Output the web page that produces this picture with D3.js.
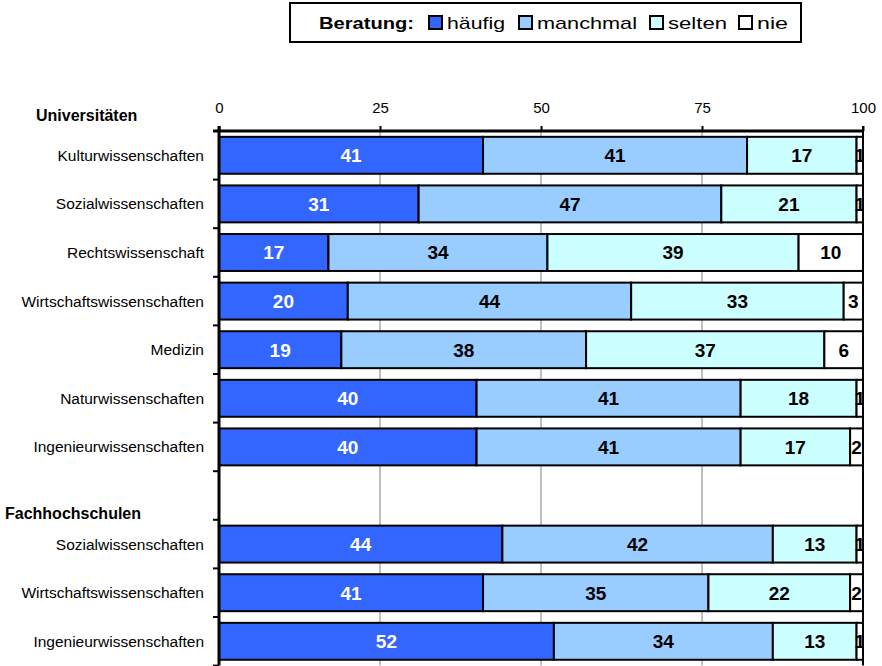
<!DOCTYPE html>
<html>
<head>
<meta charset="utf-8">
<script src="https://cdn.jsdelivr.net/npm/d3@7"></script>
<style>
  html, body { margin: 0; padding: 0; background: #fff; }
  svg { display: block; font-family: Arial, "Liberation Sans", sans-serif; }
</style>
</head>
<body>
<svg id="chart" width="882" height="666"></svg>
<script>
// Rows of the chart (an empty row separates the two school types)
const rows = [
  "Kulturwissenschaften", "Sozialwissenschaften", "Rechtswissenschaft",
  "Wirtschaftswissenschaften", "Medizin", "Naturwissenschaften",
  "Ingenieurwissenschaften", "gap",
  "FH Sozialwissenschaften", "FH Wirtschaftswissenschaften", "FH Ingenieurwissenschaften"
];
const rowLabels = [
  "Kulturwissenschaften", "Sozialwissenschaften", "Rechtswissenschaft",
  "Wirtschaftswissenschaften", "Medizin", "Naturwissenschaften",
  "Ingenieurwissenschaften", "",
  "Sozialwissenschaften", "Wirtschaftswissenschaften", "Ingenieurwissenschaften"
];
const groupHeaders = ["Universitäten", "Fachhochschulen"];

// Beratung (Anteile in %)
const seriesNames = ["häufig", "manchmal", "selten", "nie"];
const haeufig  = [41, 31, 17, 20, 19, 40, 40, null, 44, 41, 52];
const manchmal = [41, 47, 34, 44, 38, 41, 41, null, 42, 35, 34];
const selten   = [17, 21, 39, 33, 37, 18, 17, null, 13, 22, 13];
const nie      = [ 1,  1, 10,  3,  6,  1,  2, null,  1,  2,  1];
const xTicks = [0, 25, 50, 75, 100];

const colors = ["#3366FF", "#99CCFF", "#CCFFFF", "#FFFFFF"];
const labelColors = ["#FFFFFF", "#000000", "#000000", "#000000"];

const svg = d3.select("#chart");
const plotLeft = 219, plotRight = 863, plotTop = 131, plotBottom = 131 + 11 * 48.6;

const x = d3.scaleLinear().domain([0, 100]).range([plotLeft, plotRight]);
const y = d3.scaleBand().domain(rows).range([plotTop, plotBottom]).paddingInner(0.24).paddingOuter(0.12);

const table = rows.map((r, i) => ({
  row: r,
  values: [haeufig[i], manchmal[i], selten[i], nie[i]]
}));

// clip for the bar area
svg.append("defs").append("clipPath").attr("id", "plotClip")
  .append("rect").attr("x", plotLeft).attr("y", plotTop)
  .attr("width", plotRight - plotLeft - 0.5).attr("height", plotBottom - plotTop);

// grid lines
svg.append("g").selectAll("line")
  .data(xTicks.filter(t => t > 0 && t < 100))
  .join("line")
  .attr("x1", d => x(d)).attr("x2", d => x(d))
  .attr("y1", plotTop).attr("y2", plotBottom)
  .attr("stroke", "#C0C0C0").attr("stroke-width", 2);

// stacked bars
const barsG = svg.append("g").attr("clip-path", "url(#plotClip)");
table.forEach(d => {
  if (d.values[0] == null) return;
  let acc = 0;
  d.values.forEach((v, k) => {
    const x0 = acc, x1 = acc + v;
    acc = x1;
    barsG.append("rect")
      .attr("x", x(x0)).attr("y", y(d.row))
      .attr("width", x(x1) - x(x0)).attr("height", y.bandwidth())
      .attr("fill", colors[k]).attr("stroke", "#000").attr("stroke-width", 2);
    barsG.append("text")
      .attr("x", (x(x0) + x(x1)) / 2)
      .attr("y", y(d.row) + y.bandwidth() / 2)
      .attr("dy", "0.36em")
      .attr("text-anchor", "middle")
      .attr("font-size", 19).attr("font-weight", "bold")
      .attr("fill", labelColors[k])
      .text(v);
  });
});

// right border of plot
svg.append("line")
  .attr("x1", x(100)).attr("x2", x(100)).attr("y1", plotTop - 5).attr("y2", plotBottom)
  .attr("stroke", "#000").attr("stroke-width", 2);

// top axis
const xAxis = svg.append("g").attr("transform", `translate(0,${plotTop})`)
  .call(d3.axisTop(x).tickValues(xTicks).tickSize(5).tickPadding(13));
xAxis.select(".domain").attr("stroke", "#000").attr("stroke-width", 3)
  .attr("d", `M${plotLeft - 6},0H${plotRight}`);
xAxis.selectAll(".tick line").attr("stroke", "#000").attr("stroke-width", 2);
xAxis.selectAll(".tick text")
  .attr("font-size", 15).attr("font-family", "Arial, 'Liberation Sans', sans-serif").attr("fill", "#000");

// left axis line and ticks at band boundaries
svg.append("line")
  .attr("x1", plotLeft).attr("x2", plotLeft).attr("y1", plotTop - 5).attr("y2", plotBottom)
  .attr("stroke", "#000").attr("stroke-width", 3);
const boundaries = d3.range(rows.length + 1).map(i => plotTop + i * (plotBottom - plotTop) / rows.length);
svg.append("g").selectAll("line")
  .data(boundaries.slice(1))
  .join("line")
  .attr("x1", plotLeft - 6).attr("x2", plotLeft)
  .attr("y1", d => d).attr("y2", d => d)
  .attr("stroke", "#000").attr("stroke-width", 2);

// row labels
svg.append("g").selectAll("text")
  .data(rows.map((r, i) => ({ r, label: rowLabels[i] })).filter(d => d.label))
  .join("text")
  .attr("x", 204)
  .attr("y", d => y(d.r) + y.bandwidth() / 2)
  .attr("dy", "0.36em")
  .attr("text-anchor", "end")
  .attr("font-size", 15.5)
  .attr("fill", "#000")
  .text(d => d.label);

// group headers
svg.append("text").attr("x", 36).attr("y", 121)
  .attr("font-size", 16).attr("font-weight", "bold").text(groupHeaders[0]);
svg.append("text").attr("x", 5).attr("y", 519)
  .attr("font-size", 16).attr("font-weight", "bold").text(groupHeaders[1]);

// legend
const lg = svg.append("g");
lg.append("rect").attr("x", 290).attr("y", 3).attr("width", 511).attr("height", 39)
  .attr("fill", "#fff").attr("stroke", "#000").attr("stroke-width", 2);
lg.append("text").attr("x", 319).attr("y", 29)
  .attr("font-size", 17).attr("font-weight", "bold")
  .attr("textLength", 95).attr("lengthAdjust", "spacingAndGlyphs")
  .text("Beratung:");
const legendX = [429, 519, 650, 739];
const legendW = [58, 100, 59, 31];
seriesNames.forEach((name, k) => {
  lg.append("rect").attr("x", legendX[k]).attr("y", 16).attr("width", 13).attr("height", 13)
    .attr("fill", colors[k]).attr("stroke", "#000").attr("stroke-width", 2);
  lg.append("text").attr("x", legendX[k] + 18).attr("y", 29)
    .attr("font-size", 17)
    .attr("textLength", legendW[k]).attr("lengthAdjust", "spacingAndGlyphs")
    .text(name);
});
</script>
</body>
</html>
